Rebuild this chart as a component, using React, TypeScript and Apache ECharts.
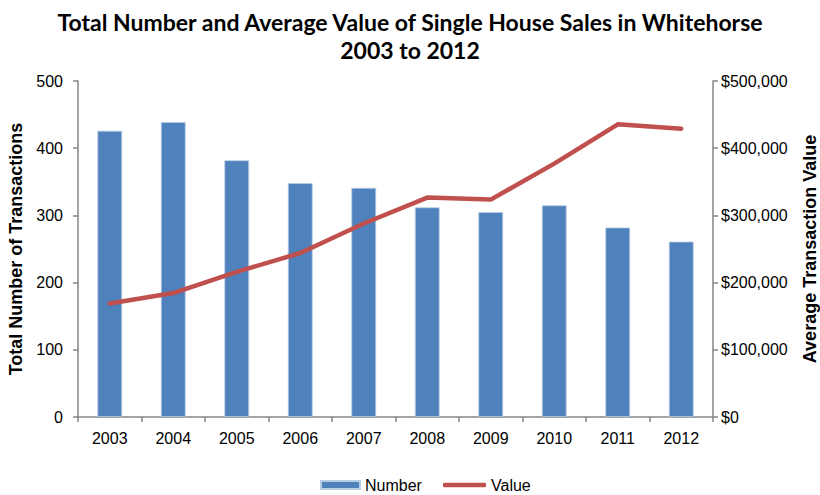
import React, { useEffect, useRef } from "react";
import * as echarts from "echarts";

const years = ["2003", "2004", "2005", "2006", "2007", "2008", "2009", "2010", "2011", "2012"];
const numberValues = [426, 439, 382, 348, 341, 312, 305, 315, 282, 261];
const avgValues = [169000, 184500, 216000, 244000, 288000, 326500, 323500, 377000, 435500, 429000];
const leftTicks = { min: 0, max: 500, interval: 100 };
const rightTicks = { min: 0, max: 500000, interval: 100000 };

export default function App() {
  const ref = useRef<HTMLDivElement>(null);
  useEffect(() => {
    if (!ref.current) return;
    const chart = echarts.init(ref.current, undefined, { renderer: "svg" });
    const axisColor = "#868686";
    const ff = "'Liberation Sans', Arial, sans-serif";
    const labelFont = { fontFamily: ff, fontSize: 16, color: "#000" };
    const nameFont = { fontFamily: ff, fontWeight: "bold", fontSize: 18, color: "#000" };
    chart.setOption({
      animation: false,
      backgroundColor: "#fff",
      title: {
        text: "Total Number and Average Value of Single House Sales in Whitehorse\n2003 to 2012",
        left: "center",
        top: 3,
        textStyle: {
          fontFamily: "Lato, sans-serif",
          fontWeight: "bold",
          fontSize: 23,
          lineHeight: 28,
          color: "#000",
        },
      },
      grid: { left: 78, right: 107, top: 81, bottom: 78, containLabel: false, outerBoundsMode: "none" },
      legend: [
        {
          left: 320,
          top: 476,
          padding: 0,
          itemWidth: 39,
          itemHeight: 8,
          textStyle: { ...labelFont, lineHeight: 18 },
          data: [{ name: "Number", icon: "rect" }],
        },
        {
          left: 443,
          top: 476,
          padding: 0,
          itemWidth: 43,
          itemHeight: 4.5,
          textStyle: { ...labelFont, lineHeight: 18 },
          data: [{ name: "Value", icon: "roundRect" }],
        },
      ],
      xAxis: {
        type: "category",
        data: years,
        axisLine: { lineStyle: { color: axisColor, width: 1.5 } },
        axisTick: { show: true, alignWithLabel: false, length: 5, lineStyle: { color: axisColor, width: 1.5 } },
        axisLabel: { ...labelFont, margin: 13 },
      },
      yAxis: [
        {
          type: "value",
          ...leftTicks,
          name: "Total Number of Transactions",
          nameLocation: "middle",
          nameRotate: 90,
          nameGap: 52,
          nameTextStyle: nameFont,
          axisLine: { show: true, lineStyle: { color: axisColor, width: 1.5 } },
          axisTick: { show: true, length: 5, lineStyle: { color: axisColor, width: 1.5 } },
          splitLine: { show: false },
          axisLabel: { ...labelFont, margin: 15 },
        },
        {
          type: "value",
          position: "right",
          ...rightTicks,
          name: "Average Transaction Value",
          nameLocation: "middle",
          nameRotate: 90,
          nameGap: 88,
          nameTextStyle: nameFont,
          axisLine: { show: true, lineStyle: { color: axisColor, width: 1.5 } },
          axisTick: { show: true, length: 5, lineStyle: { color: axisColor, width: 1.5 } },
          splitLine: { show: false },
          axisLabel: {
            ...labelFont,
            margin: 8,
            formatter: (v: number) => "$" + v.toLocaleString("en-US"),
          },
        },
      ],
      series: [
        {
          name: "Number",
          type: "bar",
          data: numberValues,
          yAxisIndex: 0,
          barWidth: "39%",
          itemStyle: { color: "#4F81BD", borderColor: "#B9CDE5", borderWidth: 0.8 },
        },
        {
          name: "Value",
          type: "line",
          data: avgValues,
          yAxisIndex: 1,
          symbol: "none",
          lineStyle: { color: "#C0504D", width: 4.5, cap: "round" },
          itemStyle: { color: "#C0504D" },
        },
      ],
    });
    return () => chart.dispose();
  }, []);
  return <div ref={ref} style={{ width: 820, height: 495, position: "absolute", left: 0, top: 0 }} />;
}
